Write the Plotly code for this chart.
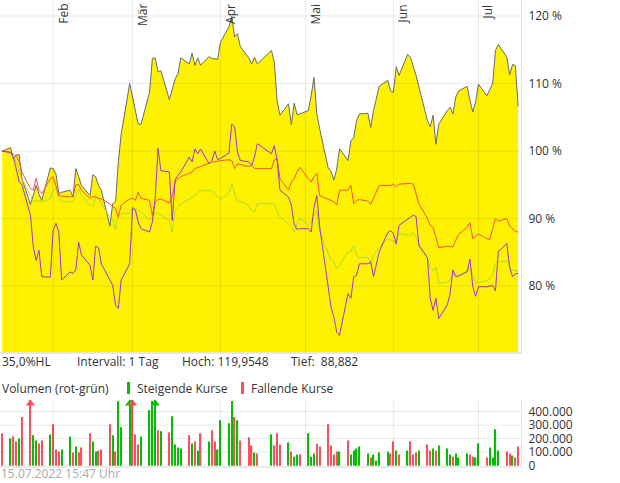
import plotly.graph_objects as go

# ---------------- data ----------------
months = {1: [14, 17, 18, 19, 20, 21, 24, 25, 26, 27, 28, 31],
          2: [1, 2, 3, 4, 7, 8, 9, 10, 11, 14, 15, 16, 17, 18, 21, 22, 23, 24, 25, 28],
          3: [1, 2, 3, 4, 7, 8, 9, 10, 11, 14, 15, 16, 17, 18, 21, 22, 23, 24, 25, 28, 29, 30, 31],
          4: [1, 4, 5, 6, 7, 8, 11, 12, 13, 14, 19, 20, 21, 22, 25, 26, 27, 28, 29],
          5: [2, 3, 4, 5, 6, 9, 10, 11, 12, 13, 16, 17, 18, 19, 20, 23, 24, 25, 26, 27, 30, 31],
          6: [1, 2, 3, 6, 7, 8, 9, 10, 13, 14, 15, 16, 17, 20, 21, 22, 23, 24, 27, 28, 29, 30],
          7: [1, 4, 5, 6, 7, 8, 11, 12, 13, 14, 15]}
dates = [f"2022-{m:02d}-{d:02d}" for m, ds in months.items() for d in ds]

main_pct = [
    100.0, 100.5, 98.8, 99.4, 99.5, 95.9, 92.1, 93.5, 94.9, 93.6, 92.7, 97.5,
    97.4, 96.6, 93.7, 93.9, 94.2, 93.2, 97.4, 96.2, 94.9, 93.4, 96.5, 96.2, 94.9, 94.2, 88.882, 92.2, 92.5, 98.4, 102.5, 110.0,
    108.0, 106.0, 104.0, 104.0, 108.7, 113.7, 113.8, 111.7, 111.9, 107.6, 109.2, 110.7, 111.4, 113.8, 112.9, 114.5, 112.7, 113.8, 112.7, 114.0, 113.7, 113.6, 113.6,
    116.1, 118.4, 119.9548, 116.9, 117.4, 115.5, 113.8, 112.9, 113.9, 112.9, 114.9, 113.2, 107.4, 105.3, 107.0, 103.9, 107.1, 105.4, 105.5,
    106.0, 108.2, 110.9, 105.5, 103.3, 97.5, 97.0, 95.7, 97.3, 100.35, 98.6, 101.5, 102.0, 104.5, 105.5, 105.6, 103.5, 106.0, 108.0, 109.6, 110.5, 108.9,
    108.7, 112.5, 111.2, 114.3, 113.9, 112.7, 111.2, 109.5, 104.5, 103.6, 105.3, 101.0, 104.0, 106.0, 106.5, 105.5, 108.0, 108.9, 109.6, 107.5, 105.8, 107.3,
    109.9, 108.2, 109.0, 110.0, 114.9, 115.8, 113.9, 111.3, 112.8, 112.7, 106.6]

red_pct = [
    100.0, 99.8, 99.5, 99.3, 98.4, 96.9, 94.4, 94.2, 96.0, 94.2, 93.7, 95.9,
    96.2, 94.9, 93.4, 93.3, 93.2, 93.2, 95.0, 95.0, 94.2, 93.0, 93.3, 93.2, 93.0, 92.9, 92.2, 91.7, 91.5, 90.2, 92.0, 92.9,
    93.0, 92.7, 93.9, 93.0, 92.7, 90.5, 92.4, 92.8, 92.9, 92.3, 93.3, 95.4, 95.9, 96.2, 96.7, 96.9, 97.4, 97.5, 97.7, 98.2, 98.4, 98.4, 98.5,
    98.6, 98.7, 98.6, 97.4, 98.1, 98.0, 97.7, 97.9, 97.4, 97.4, 97.4, 98.7, 98.9, 95.9, 94.2, 95.4, 95.9, 96.9, 97.6,
    95.9, 95.4, 96.2, 96.7, 93.4, 92.9, 92.7, 92.5, 92.0, 94.2, 94.2, 94.9, 92.2, 92.7, 92.8, 92.6, 92.1, 93.0, 93.9, 94.9, 94.9, 94.9,
    95.1, 94.7, 95.1, 95.2, 95.2, 95.1, 93.6, 92.2, 90.0, 89.0, 88.7, 87.0, 85.7, 85.9, 85.9, 85.8, 86.8, 87.7, 88.7, 89.4, 87.0, 87.3,
    87.7, 87.0, 86.9, 88.5, 90.0, 89.6, 90.0, 88.9, 88.5, 88.1, 88.0]

purple_pct = [
    100.0, 99.8, 99.1, 97.5, 95.5, 95.0, 90.5, 85.8, 83.8, 85.3, 81.4, 81.3,
    88.3, 89.3, 88.0, 80.9, 82.1, 81.9, 82.4, 86.5, 84.6, 83.1, 80.9, 85.9, 85.7, 83.3, 80.9, 80.1, 77.2, 76.7, 80.9, 83.3,
    91.5, 91.3, 89.5, 88.5, 88.0, 89.5, 93.0, 100.4, 97.1, 96.9, 89.7, 95.7, 96.4, 96.9, 99.1, 98.4, 100.3, 99.6, 100.3, 98.1, 98.6, 100.0, 98.7,
    98.9, 99.7, 104.0, 103.6, 99.9, 98.6, 98.4, 97.9, 99.1, 101.1, 99.6, 100.8, 98.6, 94.2, 93.2, 92.0, 89.2, 88.4, 88.5,
    88.5, 88.0, 91.7, 93.4, 88.8, 79.4, 76.9, 75.4, 73.2, 72.7, 78.9, 78.2, 81.4, 81.6, 83.3, 83.3, 83.6, 81.4, 83.3, 85.1, 87.9, 88.2,
    87.8, 86.2, 89.0, 90.0, 90.2, 90.5, 90.3, 86.0, 84.2, 78.2, 76.4, 78.2, 75.2, 77.2, 78.9, 82.4, 81.4, 81.5, 82.1, 84.0, 79.9, 78.5,
    79.9, 79.9, 80.0, 80.1, 79.3, 85.1, 86.3, 82.8, 81.4, 81.8, 81.9]

green_pct = [
    100.0, 99.6, 99.1, 98.4, 96.9, 95.9, 93.4, 92.5, 92.7, 92.5, 92.5, 92.9,
    94.2, 94.4, 93.2, 92.5, 92.5, 92.5, 93.4, 94.4, 93.4, 92.0, 91.7, 93.2, 93.1, 92.2, 90.2, 89.8, 88.3, 90.5, 90.7, 90.8,
    91.7, 91.5, 91.2, 91.0, 89.8, 90.2, 91.0, 90.7, 90.5, 89.7, 88.0, 91.2, 91.7, 92.2, 92.9, 93.2, 93.4, 93.9, 94.1, 94.2, 94.1, 93.7, 93.2,
    92.9, 93.7, 95.1, 93.7, 92.5, 92.5, 92.0, 91.2, 91.0, 92.2, 92.2, 92.2, 91.0, 90.2, 89.2, 88.8, 88.0, 89.2, 90.0,
    89.0, 89.5, 90.5, 91.2, 88.0, 84.8, 83.8, 83.6, 82.6, 83.1, 85.1, 85.1, 86.0, 84.6, 84.2, 84.3, 83.1, 84.6, 85.3, 85.8, 87.0, 86.8,
    86.7, 86.5, 87.8, 87.6, 87.5, 88.0, 87.3, 86.2, 84.2, 82.6, 82.3, 82.8, 80.4, 80.6, 80.9, 81.9, 81.5, 81.5, 82.3, 82.7, 81.6, 80.6,
    80.5, 80.8, 81.1, 81.6, 83.4, 83.6, 83.7, 82.7, 82.4, 82.3, 82.2]

volume_k = [
    240, 202, 217, 180, 202, 360, 620, 225, 187, 165, 187, 232,
    307, 120, 105, 120, 217, 97, 142, 97, 135, 240, 180, 105, 112, 120, 307, 225, 105, 478, 285, 650,
    700, 232, 157, 217, 412, 480, 600, 262, 255, 247, 367, 157, 135, 127, 225, 165, 180, 112, 240, 180, 262, 180, 120,
    337, 315, 480, 360, 337, 187, 210, 150, 97, 90, 232, 150, 240, 157, 172, 105, 67, 82, 82,
    240, 67, 90, 162, 142, 307, 150, 82, 105, 105, 187, 82, 112, 127, 142, 90, 60, 82, 37, 97, 105, 90,
    180, 112, 82, 112, 180, 82, 97, 112, 157, 112, 127, 112, 150, 127, 82, 67, 90, 60, 90, 82, 67, 60,
    165, 60, 135, 60, 270, 112, 105, 90, 75, 60, 142]
volume_dir = ("RGRRGRRGGRRG" "RRRGGRGRRRGGRRRGRGGG" "RRRGGGGRGRGGGGRGRGRGRRG"
              "GGGRGRRRGRGRRRGRGGR" "GGGRRRRRRGRGGGGGRGGGGR" "RGRGRRRGRRGRGGGRGGGRRG" "GRGGGGRRGRR")

month_starts = ["2022-02-01", "2022-03-01", "2022-04-01", "2022-05-01", "2022-06-01", "2022-07-01"]
month_labels = ["Feb", "Mär", "Apr", "Mai", "Jun", "Jul"]
pct_ticks = [80, 90, 100, 110, 120]
vol_ticks = [0, 100000, 200000, 300000, 400000]
stamp = "15.07.2022 15:47 Uhr"

assert len(dates) == len(main_pct) == len(red_pct) == len(purple_pct) == len(green_pct) == len(volume_k) == len(volume_dir)

# ---------------- figure ----------------
W, H = 620, 483
X_RANGE = ["2022-01-13 06:10", "2022-07-16 00:00"]
VOL_MAX = 487000
PLOT_R = 521 / W
GREEN, RED = "#00c000", "#ff4d5a"

def py(px):
    return 1 - px / H

fig = go.Figure()
fig.add_trace(go.Scatter(x=dates, y=main_pct, mode="lines", fill="tozeroy",
                         fillcolor="#fff200", line=dict(color="#6b6b6b", width=1), xaxis="x", yaxis="y"))
fig.add_trace(go.Scatter(x=dates, y=green_pct, mode="lines", line=dict(color="#aadd33", width=1), xaxis="x", yaxis="y"))
fig.add_trace(go.Scatter(x=dates, y=red_pct, mode="lines", line=dict(color="#fa4e4e", width=1), xaxis="x", yaxis="y"))
fig.add_trace(go.Scatter(x=dates, y=purple_pct, mode="lines", line=dict(color="#a530dc", width=1), xaxis="x", yaxis="y"))

vols = [v * 1000 for v in volume_k]
cols = [GREEN if c == "G" else RED for c in volume_dir]
fig.add_trace(go.Bar(x=dates, y=vols, marker=dict(color=cols, line=dict(width=0)),
                     width=0.45 * 86400000, xaxis="x2", yaxis="y2"))
clip_x = [d for d, v in zip(dates, vols) if v > VOL_MAX]
clip_c = [c for c, v in zip(cols, vols) if v > VOL_MAX]
fig.add_trace(go.Scatter(x=clip_x, y=[VOL_MAX * 0.945] * len(clip_x), mode="markers",
                         marker=dict(symbol="triangle-up", size=8, color=clip_c),
                         cliponaxis=False, xaxis="x2", yaxis="y2"))

grid = "rgba(0,0,0,0.085)"
shapes = []
for m in month_starts:
    shapes.append(dict(type="line", xref="x", yref="y domain", x0=m, x1=m, y0=0, y1=1,
                       line=dict(color=grid, width=1), layer="above"))
    shapes.append(dict(type="line", xref="x2", yref="y2 domain", x0=m, x1=m, y0=0, y1=1,
                       line=dict(color=grid, width=1), layer="above"))
for t in pct_ticks:
    shapes.append(dict(type="line", xref="x domain", yref="y", x0=0, x1=1, y0=t, y1=t,
                       line=dict(color=grid, width=1), layer="above"))
for t in vol_ticks[1:]:
    shapes.append(dict(type="line", xref="x2 domain", yref="y2", x0=0, x1=1, y0=t, y1=t,
                       line=dict(color=grid, width=1), layer="below"))
# legend swatches
shapes.append(dict(type="rect", xref="paper", yref="paper", x0=127 / W, x1=130 / W, y0=py(394), y1=py(382),
                   fillcolor=GREEN, line=dict(width=0)))
shapes.append(dict(type="rect", xref="paper", yref="paper", x0=241 / W, x1=244 / W, y0=py(394), y1=py(382),
                   fillcolor=RED, line=dict(width=0)))

hi, lo = max(main_pct), min(main_pct)
hl = (hi - lo) / lo * 100
def de(v):
    return str(v).replace(".", ",")

ann = []
for m, lab in zip(month_starts, month_labels):
    ann.append(dict(x=m, xref="x", y=1, yref="paper", text=lab, showarrow=False, textangle=-90,
                    xanchor="left", yanchor="top", xshift=-1, yshift=-2,
                    font=dict(size=12, color="#333")))
texts = [(0, 361, f"{hl:.1f}".replace(".", ",") + "%HL", "#333"),
         (75, 361, "Intervall: 1 Tag", "#333"),
         (180, 361, f"Hoch: {de(hi)}", "#333"),
         (289, 361, f"Tief:  {de(lo)}", "#333"),
         (0, 388, "Volumen (rot-grün)", "#333"),
         (135, 388, "Steigende Kurse", "#333"),
         (249, 388, "Fallende Kurse", "#333")]
for x, y, t, c in texts:
    ann.append(dict(x=x / W, xref="paper", y=py(y), yref="paper", text=t, showarrow=False,
                    xanchor="left", yanchor="middle", font=dict(size=12, color=c)))
ann.append(dict(x=0, xref="paper", y=0, yref="paper", text=stamp, showarrow=False, borderpad=0,
                xanchor="left", yanchor="bottom", font=dict(size=12, color="#aaaaaa")))

fig.update_layout(
    width=W, height=H, margin=dict(l=0, r=0, t=0, b=0, pad=0, autoexpand=False),
    paper_bgcolor="white", plot_bgcolor="white", showlegend=False, separators=",.",
    font=dict(family="Open Sans", size=12, color="#333"),
    xaxis=dict(domain=[0, PLOT_R], range=X_RANGE, type="date", showgrid=False, showticklabels=False,
               zeroline=False, showline=True, linecolor="#e6e6e6", linewidth=2, anchor="y"),
    yaxis=dict(domain=[py(352), 1], range=[70.24, 122.37], side="right", tickvals=pct_ticks,
               ticktext=[f"{t} %" for t in pct_ticks], showgrid=False, zeroline=False,
               showline=True, linecolor="#e6e6e6", linewidth=1, ticks="", ticklabelstandoff=4,
               anchor="x", tickfont=dict(size=12, color="#333")),
    xaxis2=dict(domain=[0, PLOT_R], range=X_RANGE, type="date", showgrid=False, showticklabels=False,
                zeroline=False, showline=True, linecolor="#ebebeb", linewidth=2, anchor="y2"),
    yaxis2=dict(domain=[py(466), py(400)], range=[-2500, VOL_MAX], side="right", tickvals=vol_ticks,
                tickformat=",d", showgrid=False, zeroline=False, showline=True, linecolor="#e6e6e6",
                linewidth=1, ticks="", ticklabelstandoff=4, anchor="x2", tickfont=dict(size=12, color="#333")),
    shapes=shapes, annotations=ann,
)
fig.write_html("out.html")
